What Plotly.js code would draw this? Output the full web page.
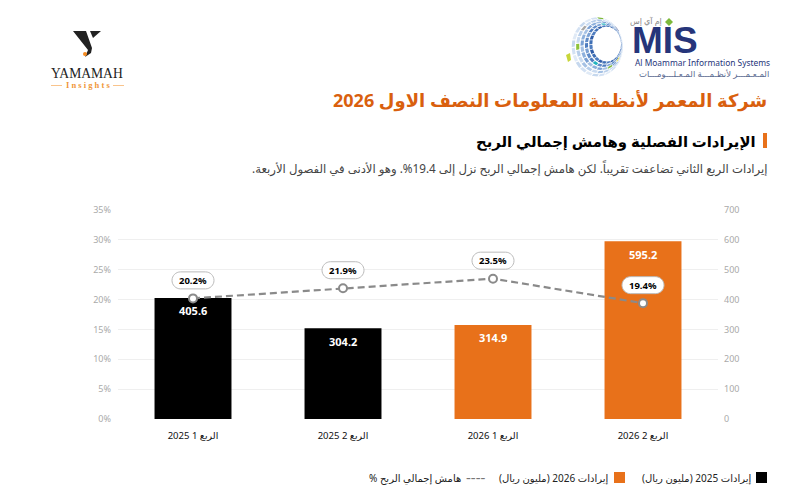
<!DOCTYPE html>
<html><head><meta charset="utf-8">
<script src="https://cdn.plot.ly/plotly-3.0.1.min.js"></script>
<style>html,body{margin:0;padding:0;background:#fff}#c{width:800px;height:500px}</style></head>
<body><div id="c"></div>
<script>
const quarters = ['الربع 1 2025','الربع 2 2025','الربع 1 2026','الربع 2 2026'];
const revenue = [405.6,304.2,314.9,595.2];
const barColors = ['#000000','#000000','#E8711A','#E8711A'];
const margin = [20.2,21.9,23.5,19.4];
const leftTicks = [0,5,10,15,20,25,30,35];
const leftTickLabels = ['0%','5%','10%','15%','20%','25%','30%','35%'];
const rightTicks = [0,100,200,300,400,500,600,700];
const legendRevenue2025 = 'إيرادات 2025 (مليون ريال)';
const legendRevenue2026 = 'إيرادات 2026 (مليون ريال)';
const legendMargin = 'هامش إجمالي الربح %';
const titleText = 'شركة المعمر لأنظمة المعلومات النصف الاول 2026';
const sectionText = 'الإيرادات الفصلية وهامش إجمالي الربح';
const subtitleText = 'إيرادات الربع الثاني تضاعفت تقريباً. لكن هامش إجمالي الربح نزل إلى 19.4%. وهو الأدنى في الفصول الأربعة.';

const FONT = '"Noto Sans","Open Sans","DejaVu Sans",sans-serif';
const RLM = '\u200F';
const L=118,R=718,T=210,B=419;
const px=x=>(x-L)/(R-L), py=y=>(B-y)/(B-T);
const note=(x,y,text,size,color,anchor,extra)=>Object.assign({xref:'paper',yref:'paper',x:px(x+(anchor==='right'?3:anchor==='left'?-2:0)),y:py(y),text,showarrow:false,
  xanchor:anchor,yanchor:'middle',font:{family:FONT,size,color}},extra||{});
const rtl=t=>RLM+t+RLM;
const poly=(pts,fill)=>({type:'path',xref:'paper',yref:'paper',layer:'above',line:{width:0},fillcolor:fill,
  path:'M'+pts.map(p=>px(p[0]).toFixed(5)+','+py(p[1]).toFixed(5)).join('L')+'Z'});
const rect=(x0,y0,x1,y1,fill)=>poly([[x0,y0],[x1,y0],[x1,y1],[x0,y1]],fill);

const shapes=[], annotations=[];

/* header text */
annotations.push(note(766,100,'<b>'+rtl(titleText)+'</b>',18,'#D95F0E','right'));
annotations.push(note(755,141,'<b>'+rtl(sectionText)+'</b>',14.85,'#000','right'));
shapes.push(rect(763,133,767,148,'#E8711A'));
annotations.push(note(767,168,rtl(subtitleText),11.7,'#444','right'));

/* rounded pills behind the margin labels, offset in pixels from each point */
const pillPath=(w,h,up)=>{const r=h/2,a=w/2-r,k=r*0.55,c=up;
  return `M${-a},${c-r}L${a},${c-r}C${a+k},${c-r} ${a+r},${c-k} ${a+r},${c}C${a+r},${c+k} ${a+k},${c+r} ${a},${c+r}`+
         `L${-a},${c+r}C${-a-k},${c+r} ${-a-r},${c+k} ${-a-r},${c}C${-a-r},${c-k} ${-a-k},${c-r} ${-a},${c-r}Z`;};
margin.forEach((m,i)=>{
  shapes.push({type:'path',layer:'above',xref:'x',yref:'y2',xsizemode:'pixel',ysizemode:'pixel',xanchor:quarters[i],yanchor:m,
    path:pillPath(42,17,18),fillcolor:'#fff',line:{color:'#bbb',width:1}});
  annotations.push({xref:'x',yref:'y2',x:quarters[i],y:m,yshift:18,showarrow:false,text:'<b>'+m.toFixed(1)+'%</b>',
    font:{family:FONT,size:9.5,color:'#000'}});
});

/* bar value labels */
revenue.forEach((v,i)=>{
  annotations.push({xref:'x',yref:'y',x:quarters[i],y:v,yshift:-13,showarrow:false,text:'<b>'+v.toFixed(1)+'</b>',
    font:{family:FONT,size:11,color:'#fff'}});
});

/* legend */
shapes.push(rect(756,472,767,483,'#000'));
annotations.push(note(751,478,rtl(legendRevenue2025),10,'#222','right'));
shapes.push(rect(614,472,625,483,'#E8711A'));
annotations.push(note(608,478,rtl(legendRevenue2026),10,'#222','right'));
annotations.push({xref:'paper',yref:'paper',x:px(475),y:py(477),text:'----',showarrow:false,xanchor:'center',yanchor:'middle',font:{family:FONT,size:15,color:'#777'}});
annotations.push(note(460,478,rtl(legendMargin),10,'#222','right'));

/* Yamamah logo */
shapes.push(poly([[73,31],[86,31],[92,48],[91,53],[85,57],[88,50]],'#222'));
shapes.push(poly([[90,31],[101,31],[93,38]],'#222'));
shapes.push({type:'circle',xref:'paper',yref:'paper',layer:'above',x0:px(83),x1:px(87),y0:py(56),y1:py(52),fillcolor:'#F58A1F',line:{width:0}});
annotations.push(note(87,73,'YAMAMAH',13.6,'#222','center',{font:{family:'"Liberation Serif",serif',size:13.6,color:'#222'}}));
annotations.push(note(88,85,'<b>I n s i g h t s</b>',8.5,'#F0973A','center',{font:{family:'"Liberation Serif",serif',size:8.5,color:'#F0973A'}}));
shapes.push(rect(51,85,62,86,'#F9C48C'));
shapes.push(rect(113,85,124,86,'#F9C48C'));

/* MIS logo */
const cx0=597,cy0=47,rxO=26,ryO=30,cx1=607,cy1=44,rxI=14,ryI=17;
const tones=[['#3F6FB5','#2F5DA8','#4E7DC0'],['#5F8BC8','#7BA1D4','#4F7DBF'],['#8DB0DC','#A5C1E4','#7BA1D4'],['#B7CEEA','#A5C1E4','#CADBF0'],['#D3E1F3','#C6D8EE','#E0EAF6']];
const accents={'2,3':'#7DB93A','1,7':'#21B3BE','3,13':'#A8A8A8','4,16':'#7DB93A','1,17':'#21B3BE','3,10':'#8FC33A','4,19':'#26357A','2,1':'#E4DF3C'};
for(let ring=0;ring<5;ring++){
  for(let k=0;k<24;k++){
    const off=ring*0.13, a0=k/24*2*Math.PI+off, a1=(k+0.84)/24*2*Math.PI+off;
    const f0=ring/5+0.03, f1=(ring+0.85)/5;
    const pt=(a,f)=>[cx1+(cx0-cx1)*f+(rxI+(rxO-rxI)*f)*Math.cos(a), cy1+(cy0-cy1)*f+(ryI+(ryO-ryI)*f)*Math.sin(a)];
    const c=accents[ring+','+k]||tones[ring][k%3];
    shapes.push(poly([pt(a0,f0),pt(a1,f0),pt(a1,f1),pt(a0,f1)],c));
  }
}
shapes.push(poly([[566,55],[570,53],[571,60],[568,62]],'#C8D63A'));
annotations.push(note(697,40,'<b>MIS</b>',37,'#26357A','right',{height:26,font:{family:'"Liberation Sans",sans-serif',size:37,color:'#26357A'}}));
annotations.push(note(661,21,rtl('إم آي إس'),8,'#888','right'));
shapes.push(poly([[669,18],[673,22],[669,26],[665,22]],'#7DB93A'));
annotations.push(note(635,62,'Al Moammar Information Systems',8.4,'#26357A','left'));
annotations.push(note(768,73,rtl('المـعـمـــر لأنظـمـــة المـعـلـــومـــات'),8.5,'#5A6A90','right'));

const data=[
 {type:'bar',x:quarters,y:revenue,yaxis:'y',marker:{color:barColors,line:{width:0}},width:0.513,hoverinfo:'skip',name:'revenue'},
 {type:'scatter',mode:'lines+markers',x:quarters,y:margin,yaxis:'y2',
  line:{color:'#8A8A8A',width:2.2,dash:'7px,4px'},
  marker:{size:8,color:'#fff',line:{color:'#8A8A8A',width:2}},cliponaxis:false,hoverinfo:'skip',name:'margin'}
];
const layout={
 width:800,height:500,paper_bgcolor:'#fff',plot_bgcolor:'#fff',showlegend:false,
 margin:{l:L,r:800-R,t:T,b:500-B,pad:0},font:{family:FONT},
 xaxis:{type:'category',categoryorder:'array',categoryarray:quarters,range:[-0.5,3.5],showline:false,showgrid:false,zeroline:false,
   ticks:'',ticklen:0,ticklabelstandoff:9,tickfont:{family:FONT,size:9.5,color:'#111'},automargin:false},
 yaxis:{side:'right',range:[0,700],tickvals:rightTicks,showgrid:true,gridcolor:'#EFEFEF',gridwidth:1,zeroline:false,ticklabelstandoff:5,
   tickfont:{family:FONT,size:9,color:'#aaa'},automargin:false},
 yaxis2:{side:'left',overlaying:'y',range:[0,35],tickvals:leftTicks,ticktext:leftTickLabels,showgrid:false,zeroline:false,ticklabelstandoff:6,
   tickfont:{family:FONT,size:9,color:'#aaa'},automargin:false},
 shapes,annotations
};
Plotly.newPlot('c',data,layout,{displayModeBar:false,staticPlot:true});
</script></body></html>
